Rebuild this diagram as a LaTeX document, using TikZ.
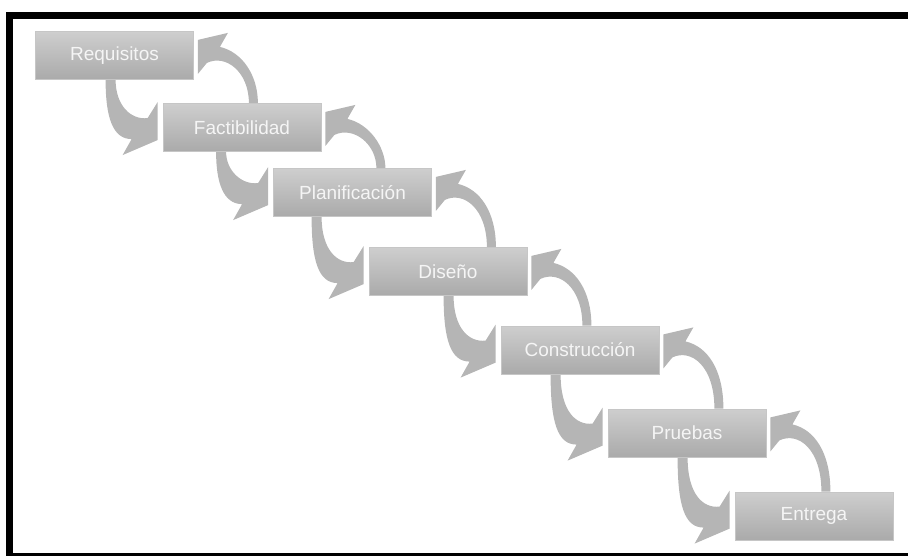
\documentclass[tikz,border=0pt]{standalone}
\usepackage{fontspec}
\setmainfont{Liberation Sans}
\usetikzlibrary{calc,backgrounds}
\definecolor{etapaarriba}{RGB}{206,206,206}
\definecolor{etapaabajo}{RGB}{170,170,170}
\definecolor{etapaborde}{RGB}{198,198,198}
\definecolor{flechagris}{RGB}{181,181,181}
\definecolor{textoetapa}{RGB}{245,245,245}
\tikzset{
  etapa/.style={rectangle, minimum width=158pt, minimum height=48pt, inner sep=0pt,
    top color=etapaarriba, bottom color=etapaabajo, draw=etapaborde, line width=0.8pt,
    text=textoetapa, font=\fontsize{19}{22}\selectfont},
  flecha/.style={fill=flechagris}
}
\begin{document}
\begin{tikzpicture}[x=1pt,y=-1pt]
  \useasboundingbox (0,0) rectangle (908,556);
  % marco
  \fill[black] (6,12) rectangle (908,19);
  \fill[black] (6,12) rectangle (13,556);
  \fill[black] (6,553) rectangle (908,556);
  % etapas
  \path
    (114.5,55.5) node[etapa] (req) {Requisitos}
    (242,127.5) node[etapa] (fact) {Factibilidad}
    (352.5,192.5) node[etapa] (plan) {Planificación}
    (448,271.5) node[etapa] (dis) {Diseño}
    (580,350) node[etapa] (cons) {Construcción}
    (687,433) node[etapa] (prue) {Pruebas}
    (814,516) node[etapa] (ent) {Entrega};
  % flechas
  \begin{pgfonlayer}{background}
    \foreach \alto/\bajo in {req/fact, fact/plan, plan/dis, dis/cons, cons/prue, prue/ent} {
      % bajada
      \fill[flecha] ($(\alto.south -| \bajo.west)+(-57,0)$)
        .. controls ($(\bajo.north west)+(-57,14)$) and ($(\bajo.north west)+(-50,36)$) .. ($(\bajo.north west)+(-31,36)$)
        -- ($(\bajo.north west)+(-40,52)$) -- ($(\bajo.north west)+(-5,37)$)
        -- ($(\bajo.north west)+(-5,-1)$) -- ($(\bajo.north west)+(-15,15)$)
        .. controls ($(\bajo.north west)+(-32,17)$) and ($(\bajo.north west)+(-47,2)$) .. ($(\alto.south -| \bajo.west)+(-47,0)$)
        -- cycle;
      % subida
      \fill[flecha] ($(\bajo.north -| \alto.east)+(64,0)$)
        .. controls ($(\alto.south east)+(64,-5)$) and ($(\alto.south east)+(48,-28)$) .. ($(\alto.south east)+(26,-33)$)
        -- ($(\alto.south east)+(34,-47)$) -- ($(\alto.south east)+(4,-40)$)
        -- ($(\alto.south east)+(4,-6)$) -- ($(\alto.south east)+(13,-17)$)
        .. controls ($(\alto.south east)+(32,-26)$) and ($(\alto.south east)+(55,-8)$) .. ($(\bajo.north -| \alto.east)+(55,0)$)
        -- cycle;
    }
  \end{pgfonlayer}
\end{tikzpicture}
\end{document}
